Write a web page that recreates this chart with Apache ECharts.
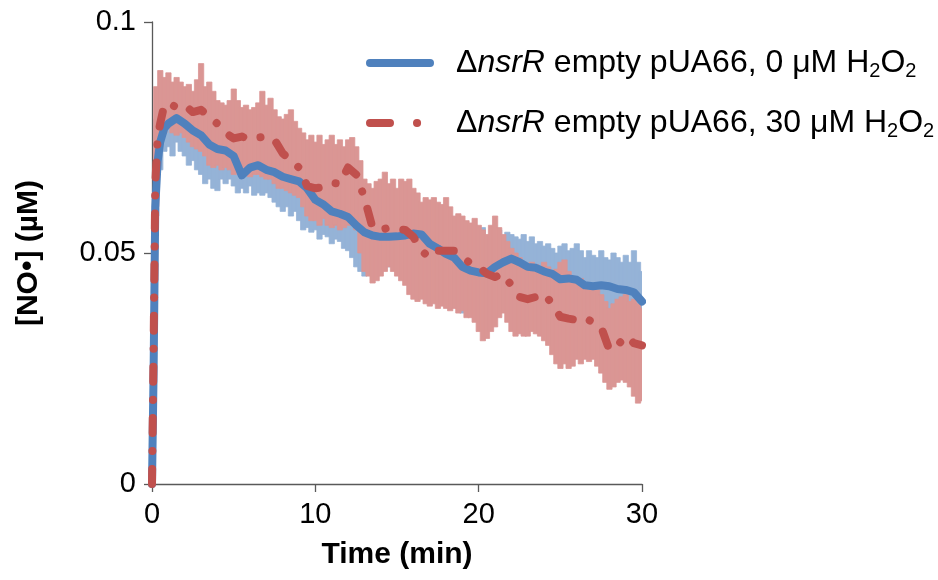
<!DOCTYPE html>
<html><head><meta charset="utf-8">
<script src="https://cdn.jsdelivr.net/npm/echarts@6/dist/echarts.min.js"></script>
<style>html,body{margin:0;padding:0;background:#fff}#c{width:938px;height:580px}</style>
</head><body><div id="c"></div><script>
// ---- data ----
const seriesNames = ['\u0394nsrR empty pUA66, 0 \u03bcM H2O2', '\u0394nsrR empty pUA66, 30 \u03bcM H2O2'];
const xTicks = [0, 10, 20, 30];
const yTicks = [0, 0.05, 0.1];

const meanTime = [0,0.1,0.2,0.35,0.5,0.75,1,
 1.5,2,2.5,3,3.5,4,4.5,5,5.5,6,6.5,7,7.5,8,8.5,9,9.5,10,10.5,11,11.5,12,12.5,13,13.5,14,14.5,15,
 15.5,16,16.5,17,17.5,18,18.5,19,19.5,20,20.5,21,21.5,22,22.5,23,23.5,24,24.5,25,25.5,26,26.5,27,27.5,28,28.5,29,29.5,30];
const blueMean = [0,0.025,0.06,0.07,0.074,0.077,0.078,
 0.0792,0.078,0.0765,0.0755,0.0735,0.0725,0.0722,0.071,0.0668,0.0685,0.069,0.068,0.0675,0.0665,0.066,0.0655,0.064,0.0615,0.0605,0.059,0.0585,0.0578,0.056,0.0545,0.0538,0.0535,0.0535,0.0536,
 0.0538,0.0542,0.054,0.052,0.051,0.0498,0.049,0.047,0.0462,0.0458,0.0456,0.047,0.048,0.0488,0.048,0.047,0.0468,0.046,0.0455,0.0443,0.0445,0.0442,0.043,0.0428,0.043,0.0428,0.0422,0.042,0.0415,0.0395];
const redMean = [0,0.03,0.065,0.075,0.078,0.082,0.0825,
 0.0815,0.082,0.0805,0.081,0.0795,0.078,0.076,0.0748,0.0752,0.0745,0.075,0.0752,0.0745,0.0716,0.070,0.0685,0.0645,0.064,0.0643,0.0652,0.065,0.0685,0.067,0.062,0.0555,0.055,0.0555,0.0552,
 0.055,0.0535,0.0505,0.049,0.0505,0.0505,0.0505,0.049,0.0478,0.047,0.0455,0.0448,0.0455,0.043,0.0405,0.040,0.0405,0.0412,0.039,0.0362,0.0358,0.0355,0.036,0.035,0.034,0.029,0.030,0.032,0.0305,0.030];

const bandTime = [0.25,0.5,0.75,1,1.25,1.5,1.75,2,2.25,2.5,2.75,3,3.25,3.5,3.75,4,4.25,4.5,4.75,5,
 5.25,5.5,5.75,6,6.25,6.5,6.75,7,7.25,7.5,7.75,8,8.25,8.5,8.75,9,9.25,9.5,9.75,10,
 10.25,10.5,10.75,11,11.25,11.5,11.75,12,12.25,12.5,12.75,13,13.25,13.5,13.75,14,14.25,14.5,14.75,15,
 15.25,15.5,15.75,16,16.25,16.5,16.75,17,17.25,17.5,17.75,18,18.25,18.5,18.75,19,19.25,19.5,19.75,20,
 20.25,20.5,20.75,21,21.25,21.5,21.75,22,22.25,22.5,22.75,23,23.25,23.5,23.75,24,24.25,24.5,24.75,25,
 25.25,25.5,25.75,26,26.25,26.5,26.75,27,27.25,27.5,27.75,28,28.25,28.5,28.75,29,29.25,29.5,29.75,30];
const blueUpper = [0.079,0.086,0.085,0.084, 0.085,0.083,0.084,0.082, 0.081,0.081,0.080,0.079, 0.078,0.078,0.077,0.076,
 0.077,0.076,0.075,0.074, 0.073,0.071,0.072,0.073, 0.074,0.073,0.072,0.072, 0.071,0.072,0.071,0.070,
 0.071,0.0725,0.070,0.069, 0.068,0.069,0.067,0.067, 0.066,0.065,0.064,0.065, 0.063,0.064,0.062,0.063,
 0.062,0.0635,0.061,0.060, 0.059,0.0585,0.058,0.059, 0.058,0.0585,0.058,0.059, 0.058,0.0595,0.059,0.0595,
 0.059,0.058,0.057,0.0565, 0.056,0.055,0.0545,0.054, 0.054,0.053,0.0525,0.0515, 0.051,0.0505,0.051,0.0525,
 0.0555,0.053,0.052,0.054, 0.055,0.0535,0.0545,0.054, 0.0535,0.053,0.054,0.0525, 0.0535,0.052,0.0525,0.0515,
 0.052,0.051,0.050,0.0515, 0.052,0.0505,0.051,0.052, 0.0505,0.049,0.0505,0.0495, 0.049,0.0505,0.049,0.0485,
 0.050,0.049,0.048,0.0495, 0.048,0.0505,0.048,0.046];
const blueLower = [0.058,0.068,0.072,0.073, 0.071,0.074,0.072,0.071, 0.069,0.070,0.068,0.067, 0.065,0.066,0.064,0.0635,
 0.066,0.065,0.066,0.0645, 0.063,0.064,0.063,0.0645, 0.0625,0.063,0.0625,0.063, 0.062,0.061,0.060,0.059,
 0.060,0.058,0.059,0.057, 0.055,0.0555,0.0545,0.055, 0.053,0.054,0.0535,0.052, 0.053,0.0525,0.051,0.0505,
 0.049,0.047,0.046,0.045, 0.0465,0.046,0.0475,0.047, 0.048,0.047,0.048,0.0475, 0.048,0.047,0.046,0.045,
 0.0455,0.045,0.0445,0.043, 0.042,0.042,0.041,0.040, 0.039,0.0395,0.038,0.037, 0.0375,0.037,0.036,0.037,
 0.038,0.039,0.040,0.041, 0.0415,0.042,0.043,0.043, 0.042,0.042,0.041,0.041, 0.040,0.041,0.0405,0.040,
 0.039,0.0395,0.038,0.038, 0.0385,0.038,0.039,0.0375, 0.037,0.0375,0.036,0.037, 0.0365,0.037,0.036,0.035,
 0.0355,0.036,0.035,0.0355, 0.035,0.0345,0.034,0.034];
const redUpper = [0.086,0.0895,0.088,0.089, 0.087,0.088,0.087,0.086, 0.0865,0.085,0.0875,0.091, 0.086,0.087,0.085,0.083,
 0.0825,0.082,0.083,0.0855, 0.083,0.0815,0.082,0.081, 0.0815,0.0825,0.085,0.082, 0.0835,0.081,0.0795,0.079,
 0.080,0.081,0.0785,0.077, 0.076,0.0745,0.0755,0.074, 0.0755,0.0735,0.0745,0.0755, 0.0735,0.0745,0.073,0.0745,
 0.075,0.073,0.070,0.066, 0.065,0.064,0.0655,0.066, 0.0675,0.065,0.066,0.064, 0.066,0.0655,0.066,0.064,
 0.063,0.061,0.062,0.0615, 0.062,0.061,0.0605,0.062, 0.060,0.058,0.0585,0.058, 0.057,0.0565,0.0575,0.056,
 0.055,0.054,0.056,0.058, 0.0555,0.054,0.0525,0.051, 0.050,0.049,0.048,0.047, 0.048,0.0475,0.047,0.048,
 0.047,0.046,0.0465,0.048, 0.0485,0.046,0.045,0.044, 0.0445,0.043,0.042,0.0425, 0.042,0.041,0.0395,0.038,
 0.039,0.040,0.0405,0.041, 0.0395,0.040,0.039,0.038];
const redLower = [0.060,0.074,0.076,0.077, 0.076,0.0755,0.076,0.075, 0.074,0.073,0.0725,0.072, 0.071,0.069,0.0685,0.069,
 0.068,0.0685,0.068,0.067, 0.0675,0.068,0.067,0.0665, 0.067,0.067,0.0665,0.066, 0.066,0.065,0.064,0.064,
 0.0635,0.063,0.0625,0.062, 0.060,0.058,0.057,0.057, 0.056,0.0575,0.056,0.0555, 0.056,0.055,0.0555,0.056,
 0.0565,0.055,0.050,0.046, 0.045,0.0435,0.044,0.045, 0.046,0.047,0.046,0.045, 0.044,0.043,0.041,0.040,
 0.0395,0.040,0.039,0.0385, 0.039,0.038,0.0385,0.038, 0.0375,0.038,0.037,0.0375, 0.036,0.036,0.035,0.033,
 0.031,0.0315,0.033,0.034, 0.036,0.037,0.035,0.033, 0.032,0.0325,0.032,0.032, 0.033,0.0325,0.032,0.031,
 0.030,0.028,0.026,0.025, 0.026,0.025,0.0255,0.027, 0.026,0.027,0.0265,0.027, 0.0255,0.024,0.022,0.0205,
 0.021,0.022,0.0225,0.022, 0.021,0.019,0.0175,0.018];

// ---- chart ----
const FONT = '"Liberation Sans", Arial, sans-serif';
const chart = echarts.init(document.getElementById('c'), null, {renderer: 'canvas'});
const pairs = (xs, ys) => xs.map((x, i) => [x, ys[i]]);
const triples = (xs, lo, hi) => xs.map((x, i) => [x, lo[i], hi[i]]);
const axisCol = '#595959';

const legendRich = {
  d: {fontFamily: FONT, fontSize: 32, color: '#000', lineHeight: 36, padding: [0, 0, 0, 21]},
  i: {fontFamily: FONT, fontSize: 32, color: '#000', lineHeight: 36, fontStyle: 'italic'},
  n: {fontFamily: FONT, fontSize: 32, color: '#000', lineHeight: 36},
  s: {fontFamily: FONT, fontSize: 20, color: '#000', lineHeight: 16, verticalAlign: 'bottom'}
};
function legendFmt(name) {
  const conc = name === seriesNames[0] ? '0' : '30';
  return '{d|\u0394}{i|nsrR}{n| empty pUA66, ' + conc + ' \u03bcM H}{s|2}{n|O}{s|2}';
}

function bandSeries(name, data, color) {
  return {
    type: 'custom', name, data, silent: true, clip: true, z: 1,
    encode: {x: 0, y: [1, 2]},
    renderItem(params, api) {
      const x = api.value(0);
      const top = api.coord([x, api.value(2)]);
      const bot = api.coord([x, api.value(1)]);
      const w = api.size([0.25, 0])[0];
      return {
        type: 'rect',
        shape: {x: top[0] - w / 2 - 0.5, y: top[1], width: w + 1.2, height: bot[1] - top[1]},
        style: {fill: color, stroke: color, lineWidth: 0.8}
      };
    }
  };
}

chart.setOption({
  animation: false,
  backgroundColor: '#fff',
  grid: {left: 152, right: 296, top: 22, bottom: 96, containLabel: false},
  legend: {
    orient: 'vertical', left: 366, top: 47, padding: 0,
    itemWidth: 60, itemHeight: 8, itemGap: 26,
    selectedMode: false,
    itemStyle: {opacity: 0},
    lineStyle: {width: 8, cap: 'round'},
    data: [
      {name: seriesNames[0]},
      {name: seriesNames[1], lineStyle: {width: 8, cap: 'round', type: [20, 27, 0.1, 60]}}
    ],
    formatter: legendFmt,
    textStyle: {fontFamily: FONT, fontSize: 32, color: '#000', rich: legendRich}
  },
  xAxis: {
    type: 'value', min: xTicks[0], max: xTicks[xTicks.length - 1], interval: 10,
    name: 'Time (min)', nameLocation: 'middle', nameGap: 56,
    nameTextStyle: {fontFamily: FONT, fontSize: 30, fontWeight: 'bold', color: '#000'},
    axisLine: {onZero: false, lineStyle: {color: axisCol, width: 1.3}},
    axisTick: {show: true, inside: false, length: 8, lineStyle: {color: axisCol, width: 1.3}},
    axisLabel: {fontFamily: FONT, fontSize: 29, color: '#000', margin: 16},
    splitLine: {show: false}
  },
  yAxis: {
    type: 'value', min: yTicks[0], max: yTicks[yTicks.length - 1], interval: 0.05,
    name: '[NO\u2022] (\u00b5M)', nameLocation: 'middle', nameGap: 108,
    nameTextStyle: {fontFamily: FONT, fontSize: 30, fontWeight: 'bold', color: '#000'},
    axisLine: {show: true, lineStyle: {color: axisCol, width: 1.3}},
    axisTick: {show: true, inside: false, length: 8, lineStyle: {color: axisCol, width: 1.3}},
    axisLabel: {fontFamily: FONT, fontSize: 29, color: '#000', margin: 16},
    splitLine: {show: false}
  },
  series: [
    bandSeries('blueBand', triples(bandTime, blueLower, blueUpper), '#95B3D7'),
    bandSeries('redBand', triples(bandTime, redLower, redUpper), '#DA9694'),
    {
      type: 'line', name: seriesNames[0], data: pairs(meanTime, blueMean), symbol: 'none', z: 3,
      lineStyle: {color: '#4F81BD', width: 8, cap: 'round', join: 'round'}, itemStyle: {color: '#4F81BD'}
    },
    {
      type: 'line', name: seriesNames[1], data: pairs(meanTime, redMean), symbol: 'none', z: 4,
      lineStyle: {color: '#C0504D', width: 8, type: [15, 18, 0.1, 18], cap: 'round', join: 'round'},
      itemStyle: {color: '#C0504D'}
    }
  ]
});
</script></body></html>
